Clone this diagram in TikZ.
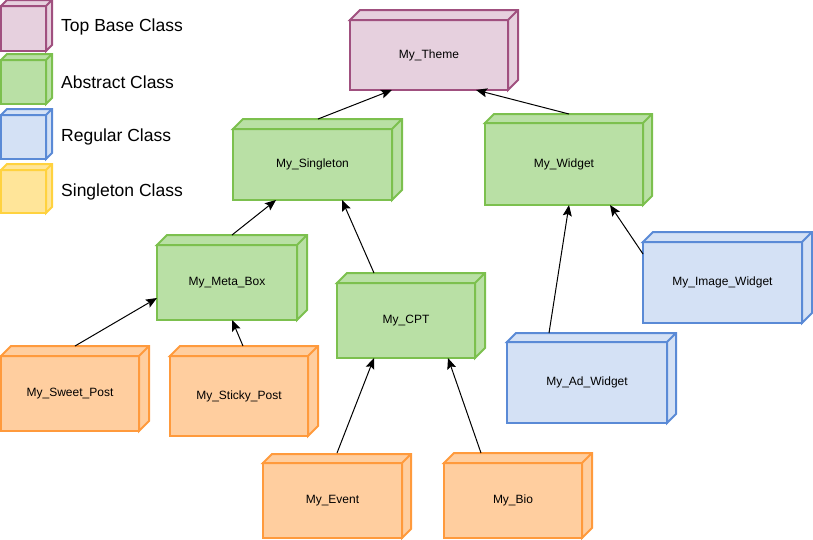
\documentclass[tikz,border=0pt]{standalone}
\usepackage{fontspec}
\setmainfont{Liberation Sans}
\usetikzlibrary{arrows.meta}

\definecolor{purFill}{HTML}{E6D0DE}\definecolor{purLine}{HTML}{A0507F}
\definecolor{grnFill}{HTML}{B9E0A5}\definecolor{grnLine}{HTML}{7CC04E}
\definecolor{bluFill}{HTML}{D4E1F5}\definecolor{bluLine}{HTML}{5A8AD6}
\definecolor{orgFill}{HTML}{FFCE9F}\definecolor{orgLine}{HTML}{FF9A3C}
\definecolor{yelFill}{HTML}{FFE599}\definecolor{yelLine}{HTML}{FFD23F}

\tikzset{
  base/.style={draw=purLine, fill=purFill},
  abstract/.style={draw=grnLine, fill=grnFill},
  regular/.style={draw=bluLine, fill=bluFill},
  single/.style={draw=orgLine, fill=orgFill},
  singlekey/.style={draw=yelLine, fill=yelFill},
  front/.style={line width=2pt, outer sep=0pt, inner sep=0pt,
    font=\fontsize{12}{14}\selectfont},
  keytext/.style={anchor=west, inner sep=0pt, font=\fontsize{17.5}{20}\selectfont},
  inherit/.style={line width=1pt, -{Stealth[length=11pt,width=9pt,inset=2pt]}},
}

% top and right faces of a box whose front face is node #2
\newcommand\boxfaces[3][10]{%
  \filldraw[#3, line width=2pt]
    (#2.north west) -- ++(#1,-#1) -- ([shift={(#1,-#1)}]#2.north east)
    -- ([shift={(#1,-#1)}]#2.south east) -- (#2.south east)
    -- (#2.north east) -- cycle
    (#2.north east) -- ++(#1,-#1);}

\begin{document}
\begin{tikzpicture}[x=1pt,y=-1pt]
\useasboundingbox (0,0) rectangle (813,539);

% key
\node[front, base, minimum width=45, minimum height=45] (kTop) at (23.5,28.5) {};
\node[front, abstract, minimum width=45, minimum height=44] (kAbs) at (23.5,82) {};
\node[front, regular, minimum width=45, minimum height=44] (kReg) at (23.5,137) {};
\node[front, singlekey, minimum width=45, minimum height=43] (kSgl) at (23.5,191.5) {};
\boxfaces[6]{kTop}{base}
\boxfaces[6]{kAbs}{abstract}
\boxfaces[6]{kReg}{regular}
\boxfaces[6]{kSgl}{singlekey}
\node[keytext] (tTop) at (61,27) {Top Base Class};
\node[keytext] (tAbs) at (61,82) {Abstract Class};
\node[keytext] (tReg) at (61,137) {Regular Class};
\node[keytext] (tSgl) at (61,192) {Singleton Class};

% classes
\node[front, base, minimum width=158, minimum height=70] (theme) at (429,55) {My\_Theme};
\node[front, abstract, minimum width=159, minimum height=71] (singleton) at (312.5,164.5) {My\_Singleton};
\node[front, abstract, minimum width=158, minimum height=82] (widget) at (564,164) {My\_Widget};
\node[front, abstract, minimum width=140, minimum height=75] (metabox) at (227,282.5) {My\_Meta\_Box};
\node[front, abstract, minimum width=138, minimum height=75] (cpt) at (406,320.5) {My\_CPT};
\node[front, regular, minimum width=159, minimum height=81] (image) at (722.5,282.5) {My\_Image\_Widget};
\node[front, regular, minimum width=160, minimum height=81] (ad) at (587,382.5) {My\_Ad\_Widget};
\node[front, single, minimum width=138, minimum height=75] (sweet) at (70,393.5) {My\_Sweet\_Post};
\node[front, single, minimum width=138, minimum height=80] (sticky) at (239,396) {My\_Sticky\_Post};
\node[front, single, minimum width=139, minimum height=75] (event) at (332.5,500.5) {My\_Event};
\node[front, single, minimum width=138, minimum height=75] (bio) at (513,500.5) {My\_Bio};

\boxfaces{theme}{base}
\boxfaces{singleton}{abstract}
\boxfaces[9]{widget}{abstract}
\boxfaces{metabox}{abstract}
\boxfaces{cpt}{abstract}
\boxfaces{image}{regular}
\boxfaces[9]{ad}{regular}
\boxfaces{sweet}{single}
\boxfaces{sticky}{single}
\boxfaces[9]{event}{single}
\boxfaces{bio}{single}

% inheritance arrows
\draw[inherit] ([shift={(5.5,-10)}]singleton.north) -- ([shift={(-37,0)}]theme.south);
\draw[inherit] ([shift={(5,-9)}]widget.north) -- ([shift={(47,0)}]theme.south);
\draw[inherit] ([shift={(5,-10)}]metabox.north) -- ([shift={(-36.5,0)}]singleton.south);
\draw[inherit] ([shift={(-32,-10)}]cpt.north) -- ([shift={(29.5,0)}]singleton.south);
\draw[inherit] ([shift={(5,-10)}]sweet.north) -- ([shift={(0,15.5)}]metabox.west);
\draw[inherit] ([shift={(4,-10)}]sticky.north) -- ([shift={(5,0)}]metabox.south);
\draw[inherit] ([shift={(4.5,-10)}]event.north) -- ([shift={(-32,0)}]cpt.south);
\draw[inherit] ([shift={(-32,-10)}]bio.north) -- ([shift={(42,0)}]cpt.south);
\draw[inherit] ([shift={(-38,-9)}]ad.north) -- ([shift={(5,0)}]widget.south);
\draw[inherit] ([shift={(0,-28.5)}]image.west) -- ([shift={(46,0)}]widget.south);
\end{tikzpicture}
\end{document}
